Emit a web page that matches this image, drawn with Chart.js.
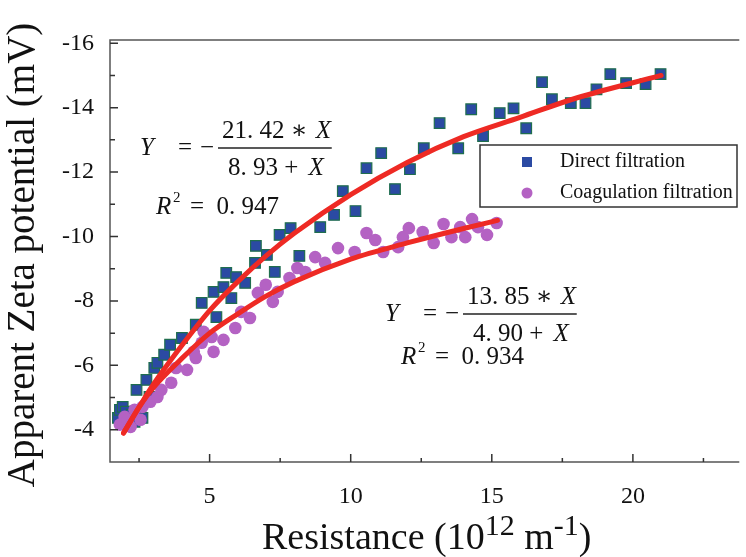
<!DOCTYPE html>
<html>
<head>
<meta charset="utf-8">
<script src="https://cdn.jsdelivr.net/npm/chart.js@4.4.1/dist/chart.umd.min.js"></script>
<style>
  html, body { margin: 0; padding: 0; background: #fff; overflow: hidden; }
</style>
</head>
<body>
<canvas id="zetaChart" width="746" height="557"></canvas>
<script>
// values
const directX = [1.75, 1.82, 1.92, 2.03, 2.10, 2.24, 2.34, 2.41, 2.52, 2.62, 2.76, 2.87, 3.04, 3.15, 3.39, 3.60, 4.02, 4.51, 4.72, 5.14, 5.24, 5.49, 5.59, 5.77, 5.94, 6.26, 6.61, 6.64, 7.03, 7.31, 7.48, 7.87, 8.18, 8.92, 9.41, 9.72, 10.17, 10.56, 11.08, 11.57, 12.10, 12.59, 13.15, 13.81, 14.27, 14.69, 15.28, 15.77, 16.22, 16.78, 17.13, 17.80, 18.32, 18.71, 19.20, 19.76, 20.45, 20.98];
const directY = [-4.37, -4.62, -4.71, -4.56, -4.37, -4.47, -4.25, -5.24, -4.56, -4.37, -5.55, -5.02, -5.92, -6.08, -6.33, -6.64, -6.85, -7.26, -7.94, -8.28, -7.50, -8.43, -8.87, -8.09, -8.74, -8.56, -9.18, -9.71, -9.43, -8.90, -10.05, -10.26, -9.40, -10.29, -10.67, -11.41, -10.79, -12.12, -12.59, -11.47, -12.09, -12.74, -13.52, -12.74, -13.95, -13.12, -13.83, -13.98, -13.36, -14.79, -14.26, -14.14, -14.14, -14.57, -15.04, -14.76, -14.73, -15.04];

const coagX = [1.82, 1.99, 2.10, 2.20, 2.34, 2.55, 2.62, 2.90, 3.15, 3.29, 3.64, 3.81, 4.20, 4.44, 4.51, 4.72, 4.79, 5.07, 5.14, 5.49, 5.91, 6.12, 6.43, 6.71, 6.99, 7.24, 7.41, 7.83, 8.11, 8.39, 8.74, 9.09, 9.55, 10.14, 10.56, 10.87, 11.15, 11.68, 11.85, 12.06, 12.55, 12.94, 13.29, 13.57, 13.88, 14.06, 14.30, 14.51, 14.83, 15.17];
const coagY = [-4.16, -4.40, -4.31, -4.09, -4.62, -4.31, -4.71, -4.87, -5.02, -5.24, -5.46, -5.92, -5.86, -6.42, -6.23, -6.70, -7.04, -6.88, -6.42, -6.79, -7.16, -7.66, -7.47, -8.25, -8.50, -7.97, -8.28, -8.71, -9.02, -8.90, -9.36, -9.18, -9.64, -9.52, -10.11, -9.89, -9.52, -9.67, -9.98, -10.26, -10.14, -9.80, -10.39, -9.98, -10.29, -9.98, -10.54, -10.29, -10.05, -10.42];

// red fitted curves as traced on the figure
const fitDirectX = [1.95, 2.5, 3, 4, 5, 6, 7, 8, 10, 12, 14, 16, 18, 21];
const fitDirectY = [-3.9, -4.7, -5.4, -6.6, -7.7, -8.6, -9.4, -10.1, -11.3, -12.3, -13.1, -13.7, -14.3, -15.0];
const fitCoagX = [1.95, 2.5, 3, 4, 5, 6, 7, 8, 10, 12, 14, 15.2];
const fitCoagY = [-3.9, -4.7, -5.3, -6.2, -7.0, -7.6, -8.15, -8.6, -9.3, -9.8, -10.25, -10.5];

const xTicks = [5, 10, 15, 20];
const xMinorTicks = [2.5, 7.5, 12.5, 17.5, 22.5];
const yTicks = [-16, -14, -12, -10, -8, -6, -4];
const yMinorTicks = [-15, -13, -11, -9, -7, -5];

const serif = "'Liberation Serif', 'DejaVu Serif', serif";

function toPoints(xs, ys) {
  return xs.map((x, i) => ({ x: x, y: ys[i] }));
}

// axes frame with inward ticks
const framePlugin = {
  id: 'frame',
  afterDraw(chart) {
    const ctx = chart.ctx;
    const a = chart.chartArea;
    const xs = chart.scales.x, ys = chart.scales.y;
    ctx.save();
    ctx.strokeStyle = '#555';
    ctx.lineWidth = 1.5;
    ctx.beginPath();
    ctx.moveTo(a.right + 2, a.top);
    ctx.lineTo(a.left, a.top);
    ctx.lineTo(a.left, a.bottom);
    ctx.lineTo(a.right + 2, a.bottom);
    ctx.stroke();
    ctx.strokeStyle = '#333';
    ctx.beginPath();
    xTicks.forEach(v => { const p = xs.getPixelForValue(v); ctx.moveTo(p, a.bottom); ctx.lineTo(p, a.bottom - 8); });
    xMinorTicks.forEach(v => { const p = xs.getPixelForValue(v); ctx.moveTo(p, a.bottom); ctx.lineTo(p, a.bottom - 4); });
    yTicks.forEach(v => { const p = ys.getPixelForValue(v); ctx.moveTo(a.left, p); ctx.lineTo(a.left + 8, p); });
    yMinorTicks.forEach(v => { const p = ys.getPixelForValue(v); ctx.moveTo(a.left, p); ctx.lineTo(a.left + 5, p); });
    ctx.stroke();
    ctx.restore();
  }
};

// axis titles, equations and the boxed legend
const textPlugin = {
  id: 'texts',
  afterDraw(chart) {
    const ctx = chart.ctx;
    ctx.save();
    ctx.fillStyle = '#111';

    // y title
    ctx.save();
    ctx.translate(24, 255);
    ctx.rotate(-Math.PI / 2);
    ctx.font = '39px ' + serif;
    ctx.textAlign = 'center';
    ctx.textBaseline = 'middle';
    ctx.fillText('Apparent Zeta potential (mV)', 0, 0);
    ctx.restore();

    // x title with superscripts
    const parts = [['Resistance (10', 38, 0], ['12', 30, -14], [' m', 38, 0], ['-1', 30, -14], [')', 38, 0]];
    let x = 262;
    ctx.textAlign = 'left';
    ctx.textBaseline = 'alphabetic';
    parts.forEach(p => {
      ctx.font = p[1] + 'px ' + serif;
      ctx.fillText(p[0], x, 549 + p[2]);
      x += ctx.measureText(p[0]).width;
    });

    // equations
    function fraction(lx, cy, num, den, r2) {
      ctx.font = 'italic 25px ' + serif;
      ctx.textBaseline = 'middle';
      ctx.textAlign = 'left';
      ctx.fillText('Y', lx, cy);
      ctx.font = '25px ' + serif;
      ctx.fillText('=', lx + 38, cy);
      ctx.fillText('\u2212', lx + 60, cy);
      const bx = lx + 78;
      ctx.font = '25px ' + serif;
      const nw = ctx.measureText(num[0]).width + 20;
      ctx.fillText(num[0], bx + 4, cy - 17);
      ctx.font = 'italic 25px ' + serif;
      ctx.fillText('X', bx + 4 + nw - 18 + 6, cy - 17);
      ctx.font = '25px ' + serif;
      const dw = ctx.measureText(den).width;
      ctx.fillText(den, bx + 10, cy + 20);
      ctx.font = 'italic 25px ' + serif;
      ctx.fillText('X', bx + 10 + dw + 4, cy + 20);
      ctx.strokeStyle = '#222';
      ctx.lineWidth = 1.5;
      ctx.beginPath();
      ctx.moveTo(bx, cy);
      ctx.lineTo(bx + nw + 8, cy);
      ctx.stroke();
      // R^2 line
      ctx.font = 'italic 25px ' + serif;
      ctx.fillText('R', lx + 16, r2);
      ctx.font = '15px ' + serif;
      ctx.fillText('2', lx + 33, r2 - 9);
      ctx.font = '25px ' + serif;
      ctx.fillText('=  ' + num[1], lx + 50, r2);
    }
    fraction(140, 148, ['21. 42 \u2217', '0. 947'], '8. 93 + ', 207);
    fraction(385, 314, ['13. 85 \u2217', '0. 934'], '4. 90 + ', 357);

    // legend
    ctx.strokeStyle = '#333';
    ctx.lineWidth = 1.5;
    ctx.strokeRect(480, 145, 257, 62);
    const d0 = chart.data.datasets[0], d1 = chart.data.datasets[1];
    ctx.fillStyle = d0.backgroundColor;
    ctx.fillRect(522, 157, 10, 10);
    ctx.fillStyle = d1.backgroundColor;
    ctx.beginPath();
    ctx.arc(527, 193, 5.5, 0, Math.PI * 2);
    ctx.fill();
    ctx.fillStyle = '#111';
    ctx.font = '20px ' + serif;
    ctx.textBaseline = 'middle';
    ctx.fillText(d0.label, 560, 162);
    ctx.fillText(d1.label, 560, 193);
    ctx.restore();
  }
};

const ctx = document.getElementById('zetaChart').getContext('2d');
new Chart(ctx, {
  type: 'scatter',
  data: {
    datasets: [
      {
        label: 'Direct filtration',
        data: toPoints(directX, directY),
        pointStyle: 'rect',
        pointRadius: 7.5,
        backgroundColor: '#2b4aa3',
        borderColor: '#1f6e4e',
        borderWidth: 1.2,
        order: 3
      },
      {
        label: 'Coagulation filtration',
        data: toPoints(coagX, coagY),
        pointStyle: 'circle',
        pointRadius: 6.3,
        backgroundColor: '#b462c3',
        borderColor: '#b462c3',
        borderWidth: 0,
        order: 2
      },
      {
        type: 'line',
        label: 'fit direct',
        data: toPoints(fitDirectX, fitDirectY),
        borderColor: '#ee2a24',
        borderWidth: 5,
        pointRadius: 0,
        fill: false,
        cubicInterpolationMode: 'monotone',
        borderCapStyle: 'round',
        order: 1
      },
      {
        type: 'line',
        label: 'fit coagulation',
        data: toPoints(fitCoagX, fitCoagY),
        borderColor: '#ee2a24',
        borderWidth: 5,
        pointRadius: 0,
        fill: false,
        cubicInterpolationMode: 'monotone',
        borderCapStyle: 'round',
        order: 0
      }
    ]
  },
  options: {
    responsive: false,
    animation: false,
    layout: { padding: { top: 40, right: 0, left: 0, bottom: 0 } },
    plugins: {
      legend: { display: false },
      tooltip: { enabled: false }
    },
    scales: {
      x: {
        type: 'linear',
        min: 1.47,
        max: 23.7,
        grid: { display: false },
        border: { display: false },
        afterBuildTicks: s => { s.ticks = xTicks.map(v => ({ value: v })); },
        afterFit: s => { s.height = 95; },
        ticks: {
          color: '#111',
          padding: 12,
          font: { family: serif, size: 24 },
          callback: v => String(v)
        }
      },
      y: {
        type: 'linear',
        reverse: true,
        min: -16.1,
        max: -3,
        grid: { display: false },
        border: { display: false },
        afterBuildTicks: s => { s.ticks = yTicks.map(v => ({ value: v })); },
        afterFit: s => { s.width = 110; },
        ticks: {
          color: '#111',
          padding: 8,
          font: { family: serif, size: 24 },
          callback: v => String(v)
        }
      }
    }
  },
  plugins: [framePlugin, textPlugin]
});
</script>
</body>
</html>
